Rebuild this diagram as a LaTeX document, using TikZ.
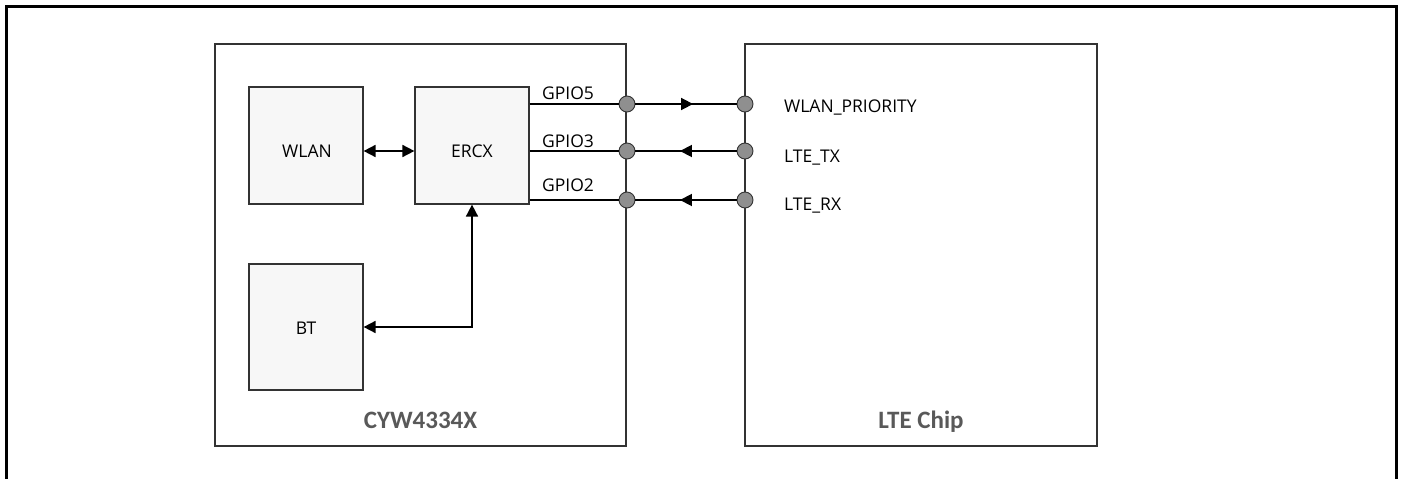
\documentclass[tikz,border=0pt]{standalone}
\usepackage{fontspec}
\setmainfont{Open Sans}
\newfontfamily\capfont{Carlito}
\usetikzlibrary{arrows.meta,decorations.markings}
\definecolor{boxfill}{HTML}{F7F7F7}
\definecolor{edgecol}{HTML}{333333}
\definecolor{pinfill}{HTML}{8F8F8F}
\definecolor{captext}{HTML}{595959}
\begin{document}
\begin{tikzpicture}[x=1pt,y=-1pt,
  chip/.style={draw=edgecol,line width=1.2pt,fill=white,rectangle,inner sep=0pt,minimum height=402pt},
  blk/.style={draw=edgecol,line width=1.2pt,fill=boxfill,rectangle,inner sep=0pt,minimum width=114pt},
  lbl/.style={inner sep=0pt,font=\fontsize{17.5}{20}\selectfont},
  capl/.style={inner sep=0pt,text=captext,font=\capfont\bfseries\fontsize{25}{28}\selectfont},
  pinpt/.style={circle,draw=edgecol,fill=pinfill,line width=0.9pt,minimum size=16pt,inner sep=0pt},
  wire/.style={draw=black,line width=1.7pt},
  fwdarrow/.style={postaction={decorate},decoration={markings,mark=at position 0.57 with {\arrow{Triangle[length=12pt,width=12pt]}}}},
  revarrow/.style={postaction={decorate},decoration={markings,mark=at position 0.44 with {\arrowreversed{Triangle[length=12pt,width=12pt]}}}}
]
\useasboundingbox (0,0) rectangle (1401,479);
% outer frame (open at bottom)
\draw[line width=3pt] (6,479) -- (6,6) -- (1396,6) -- (1396,479);

% chips
\node[chip,minimum width=411pt] (cyw) at (420.5,245) {};
\node[chip,minimum width=352pt] (lte) at (921,245) {};
\node[capl,anchor=base] (cywT) at (420.5,428) {CYW4334X};
\node[capl,anchor=base] (lteT) at (921,428) {LTE Chip};

% inner blocks
\node[blk,minimum height=117pt] (wlan) at (306,145.5) {};
\node[blk,minimum height=117pt] (ercx) at (472,145.5) {};
\node[blk,minimum height=126pt] (bt) at (306,327) {};
\node[lbl,anchor=base] (wlanT) at (307,157) {WLAN};
\node[lbl,anchor=base] (ercxT) at (472,157) {ERCX};
\node[lbl,anchor=base] (btT) at (306,334) {BT};

% pins
\node[pinpt] (l5) at (627,104) {};
\node[pinpt] (l3) at (627,151) {};
\node[pinpt] (l2) at (627,200) {};
\node[pinpt] (r5) at (745,104) {};
\node[pinpt] (r3) at (745,151) {};
\node[pinpt] (r2) at (745,200) {};

% GPIO lines
\draw[wire] (ercx.east |- l5) -- (l5.west);
\draw[wire] (ercx.east |- l3) -- (l3.west);
\draw[wire] (ercx.east |- l2) -- (l2.west);
\draw[wire,fwdarrow] (l5) -- (r5);
\draw[wire,revarrow] (l3) -- (r3);
\draw[wire,revarrow] (l2) -- (r2);

% labels
\node[lbl,anchor=base west] (g5) at (542,99) {GPIO5};
\node[lbl,anchor=base west] (g3) at (542,147) {GPIO3};
\node[lbl,anchor=base west] (g2) at (542,191) {GPIO2};
\node[lbl,anchor=base west] (wp) at (784,112) {WLAN\_PRIORITY};
\node[lbl,anchor=base west] (ltx) at (784,162) {LTE\_TX};
\node[lbl,anchor=base west] (lrx) at (784,210) {LTE\_RX};

% internal connectors
\draw[wire,{Triangle[length=12pt,width=12pt]}-{Triangle[length=12pt,width=12pt]}] (wlan.east |- l3) -- (ercx.west |- l3);
\draw[wire,{Triangle[length=12pt,width=12pt]}-{Triangle[length=12pt,width=12pt]}] (bt.east) -- (ercx.south |- bt.east) -- (ercx.south);
\end{tikzpicture}
\end{document}
